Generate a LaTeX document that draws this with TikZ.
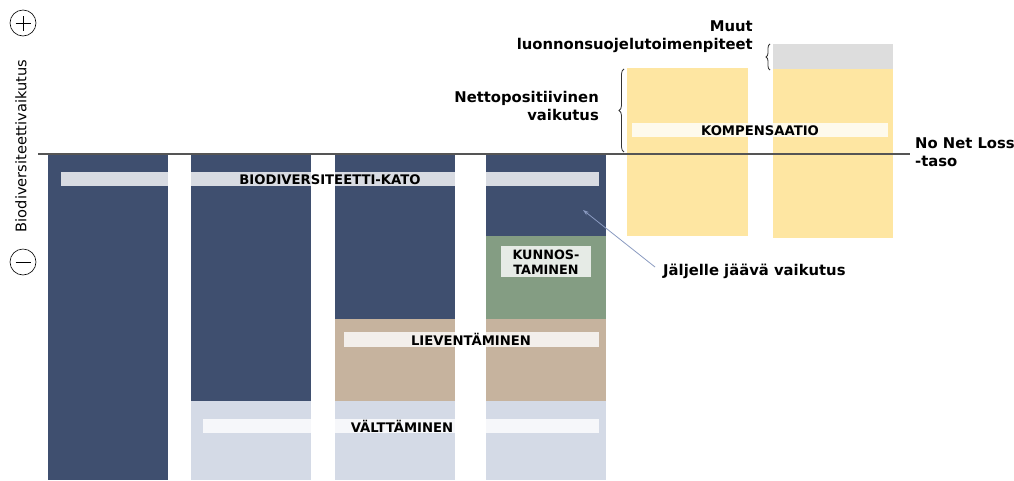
\documentclass[tikz,border=0pt]{standalone}
\usepackage{fontspec}
\setmainfont{DejaVu Sans}
\usetikzlibrary{decorations.pathreplacing,arrows.meta}
\definecolor{navy}{HTML}{3F4F6F}
\definecolor{pale}{HTML}{D4DAE6}
\definecolor{tan}{HTML}{C6B39E}
\definecolor{sage}{HTML}{849D83}
\definecolor{sun}{HTML}{FEE6A2}
\definecolor{fog}{HTML}{DDDDDD}
\definecolor{axisline}{HTML}{555555}
\definecolor{pointer}{HTML}{8A9AC0}
\tikzset{
  lbl/.style={font=\bfseries\fontsize{13.2}{14}\selectfont, text=black, inner sep=0pt},
  bartag/.style={fill=white, fill opacity=0.8, draw=none},
  side/.style={font=\bfseries\fontsize{14.8}{18}\selectfont, inner sep=0pt},
  brc/.style={decorate, decoration={brace, amplitude=5pt}, line width=0.8pt, black!80},
}
\begin{document}
\begin{tikzpicture}[x=1pt,y=-1pt]
\useasboundingbox (0,0) rectangle (1014,480);
% columns
\fill[navy] (48,154) rectangle (168,480);
\fill[navy] (191,154) rectangle (311,401);
\fill[pale] (191,401) rectangle (311,480);
\fill[navy] (335,154) rectangle (455,319);
\fill[tan] (335,319) rectangle (455,401);
\fill[pale] (335,401) rectangle (455,480);
\fill[navy] (486,154) rectangle (606,236);
\fill[sage] (486,236) rectangle (606,319);
\fill[tan] (486,319) rectangle (606,401);
\fill[pale] (486,401) rectangle (606,480);
\fill[sun] (627,68) rectangle (748,236);
\fill[fog] (773,44) rectangle (893,69);
\fill[sun] (773,69) rectangle (893,238);
% label bars
\fill[bartag] (61,172) rectangle (599,186);
\node[lbl] (kato) at (330,179.5) {BIODIVERSITEETTI-KATO};
\fill[bartag] (632,123) rectangle (888,137);
\node[lbl] (komp) at (760,130.5) {KOMPENSAATIO};
\fill[bartag] (501,246) rectangle (591,277);
\node[lbl, align=center, font=\bfseries\fontsize{12.8}{15.5}\selectfont] (kunn) at (546,262) {KUNNOS-\\TAMINEN};
\fill[bartag] (344,332) rectangle (599,347);
\node[lbl] (liev) at (471,339.5) {LIEVENTÄMINEN};
\fill[bartag] (203,419) rectangle (599,433);
\node[lbl] (valt) at (402,426) {VÄLTTÄMINEN};
% baseline
\coordinate (b0) at (38,154);
\coordinate (b1) at (910,154);
\draw[axisline, line width=1.3pt] (b0) -- (b1);
% axis
\node[draw, circle, minimum size=26pt, inner sep=0pt, line width=0.6pt] (plus) at (23,23) {};
\draw[line width=0.6pt] ([xshift=-7.5pt]plus.center) -- ([xshift=7.5pt]plus.center) ([yshift=-7.5pt]plus.center) -- ([yshift=7.5pt]plus.center);
\node[draw, circle, minimum size=26pt, inner sep=0pt, line width=0.6pt] (minus) at (23,262) {};
\draw[line width=0.6pt] ([xshift=-7.5pt]minus.center) -- ([xshift=7.5pt]minus.center);
\node[rotate=90, font=\fontsize{14.6}{16}\selectfont, inner sep=0pt] (ax) at (21,146) {Biodiversiteettivaikutus};
% braces and side labels
\coordinate (n0) at (624,152);
\coordinate (n1) at (624,69);
\draw[brc] (n0) -- (n1);
\node[side, anchor=east, align=right] (netto) at (599,106) {Nettopositiivinen\\vaikutus};
\coordinate (m0) at (770,70);
\coordinate (m1) at (770,44);
\draw[brc, decoration={amplitude=4pt}] (m0) -- (m1);
\node[side, anchor=east, align=right] (muut) at (753,37) {Muut\\luonnonsuojelutoimenpiteet};
\node[side, anchor=west, align=left] (nnl) at (915,152) {No Net Loss\\-taso};
\node[side, anchor=west] (jv) at (663,271) {Jäljelle jäävä vaikutus};
\coordinate (tip) at (583,210);
\draw[pointer, line width=0.8pt, -{Stealth[length=6pt,width=4pt]}] (jv.west) ++(-8,-4) -- (tip);
\end{tikzpicture}
\end{document}
